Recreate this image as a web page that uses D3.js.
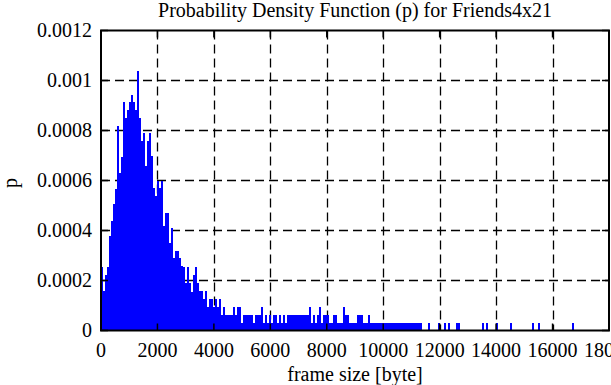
<!doctype html>
<html>
<head>
<meta charset="utf-8">
<title>Probability Density Function (p) for Friends4x21</title>
<script src="https://cdn.jsdelivr.net/npm/d3@7"></script>
<style>
  body { margin: 0; background: #fff; }
  svg text { font-family: "Liberation Serif", "DejaVu Serif", serif; font-size: 20px; fill: #000; }
</style>
</head>
<body>
<svg id="chart" width="611" height="385"></svg>
<script>
// histogram bin width in bytes
var binWidth = 71;

// p per bin, starting at frame size 0
var pMain = [
  0.000255, 0.00016, 0.000222, 0.000255, 0.000378, 0.00044, 0.000506, 0.000567,
  0.000818, 0.000629, 0.000695, 0.000914, 0.00085, 0.000882, 0.000914, 0.000943,
  0.000914, 0.000882, 0.00104, 0.00085, 0.00076, 0.00079, 0.00066, 0.00076,
  0.00079, 0.00070, 0.00057, 0.00054, 0.00060, 0.00057, 0.00060, 0.00042,
  0.00047, 0.00047, 0.00035, 0.00041, 0.00029, 0.00032, 0.00032, 0.00029,
  0.00026, 0.000255, 0.00019, 0.000255, 0.00019, 0.000155, 0.000222, 0.000255,
  0.00019, 0.00016, 0.00016, 0.000127, 0.00016, 0.000095, 0.000127, 0.000127,
  0.000095, 0.000127, 0.000095, 0.000127, 0.000063, 0.000095, 0.000063, 0.000063,
  0.000063, 0.000064, 0.000096, 0.000064, 0.000096, 0.000096, 0.000032, 0.000064,
  0.000064, 0.000064, 0.000064, 0.000064, 0.000032, 0.000064, 0.000064, 0.000064,
  0.000096, 0.000032, 0.000064, 0.000032, 0.000064, 0.000032, 0.000064, 0.000064,
  0.000032, 0.000064, 0.000032, 0.000064, 0.000032, 0.000064, 0.000064, 0.000064,
  0.000064, 0.000064, 0.000064, 0.000064, 0.000064, 0.000064, 0.000064, 0.000064,
  0.000096, 0.000032, 0.000064, 0.000032, 0.000064, 0.000096, 0.000032, 0.000064,
  0.000064, 0.000064, 0.000032, 0.000032, 0.000064, 0.000064, 0.000032, 0.000032,
  0.000032, 0.000096, 0.000064, 0.000064, 0.000032, 0.000032, 0.000032, 0.000032,
  0.000064, 0.000064, 0.000064, 0.000032, 0.000032, 0.000064, 0.000032, 0.000032,
  0.000032, 0.000032, 0.000032, 0.000032, 0.000032, 0.000032, 0.000032, 0.000032,
  0.000032, 0.000032, 0.000032, 0.000032, 0.000032, 0.000032, 0.000032, 0.000032,
  0.000032, 0.000032, 0.000032, 0.000032, 0.000032, 0.000032, 0.000032, 0.000032
];

// isolated large frames (bin start in bytes) and their p
var tailSizes = [11570, 11930, 12140, 12280, 12570, 12640, 13490, 13630, 13990, 14480, 15270, 15480, 16690];
var tailP = [0.000032, 0.000032, 0.000032, 0.000032, 0.000032, 0.000032, 0.000032, 0.000032, 0.000032, 0.000032, 0.000032, 0.000032, 0.000032];

var xTicks = [0, 2000, 4000, 6000, 8000, 10000, 12000, 14000, 16000, 18000];
var yTicks = [0, 0.0002, 0.0004, 0.0006, 0.0008, 0.001, 0.0012];

var bins = pMain.map(function (p, i) { return { x0: i * binWidth, p: p }; })
  .concat(tailSizes.map(function (s, i) { return { x0: s, p: tailP[i] }; }));

var svg = d3.select('#chart');
var plotL = 101, plotR = 609, plotT = 30.5, plotB = 330.5;

var x = d3.scaleLinear().domain([0, 18000]).range([plotL, plotR]);
var y = d3.scaleLinear().domain([0, 0.0012]).range([plotB, plotT]);

// grid (behind bars)
svg.append('g').selectAll('line')
  .data(xTicks.slice(1, -1))
  .enter().append('line')
    .attr('x1', function (d) { return Math.round(x(d)) + 0.5; })
    .attr('x2', function (d) { return Math.round(x(d)) + 0.5; })
    .attr('y1', plotT).attr('y2', plotB)
    .style('stroke', '#000').style('stroke-width', 1.3).style('stroke-dasharray', '9,5');
svg.append('g').selectAll('line')
  .data(yTicks.slice(1, -1))
  .enter().append('line')
    .attr('x1', plotL).attr('x2', plotR)
    .attr('y1', function (d) { return y(d); })
    .attr('y2', function (d) { return y(d); })
    .style('stroke', '#000').style('stroke-width', 1.3).style('stroke-dasharray', '9,5');

// bars
svg.append('g').selectAll('rect')
  .data(bins)
  .enter().append('rect')
    .attr('x', function (d) { return x(d.x0); })
    .attr('width', function (d) { return x(d.x0 + binWidth) - x(d.x0); })
    .attr('y', function (d) { return y(d.p); })
    .attr('height', function (d) { return y(0) - y(d.p); })
    .style('fill', '#0000ff')
    .attr('shape-rendering', 'crispEdges');

// ticks on all four sides, drawn over the bars
var ticks = svg.append('g').style('stroke', '#000').style('stroke-width', 1.5);
xTicks.forEach(function (d) {
  var px = x(d);
  ticks.append('line').attr('x1', px).attr('x2', px).attr('y1', plotB).attr('y2', plotB - 7);
  ticks.append('line').attr('x1', px).attr('x2', px).attr('y1', plotT).attr('y2', plotT + 7);
});
yTicks.forEach(function (d) {
  var py = y(d);
  ticks.append('line').attr('x1', plotL).attr('x2', plotL + 7).attr('y1', py).attr('y2', py);
  ticks.append('line').attr('x1', plotR).attr('x2', plotR - 7).attr('y1', py).attr('y2', py);
});

// border
svg.append('rect')
  .attr('x', plotL).attr('y', plotT)
  .attr('width', plotR - plotL).attr('height', plotB - plotT)
  .style('fill', 'none').style('stroke', '#000').style('stroke-width', 2);

// tick labels
svg.append('g').selectAll('text')
  .data(xTicks)
  .enter().append('text')
    .attr('x', function (d) { return x(d); })
    .attr('y', 357)
    .attr('text-anchor', 'middle')
    .text(function (d) { return d; });
svg.append('g').selectAll('text')
  .data(yTicks)
  .enter().append('text')
    .attr('x', 92)
    .attr('y', function (d) { return y(d); })
    .attr('dy', '0.33em')
    .attr('text-anchor', 'end')
    .text(function (d) { return String(+d.toFixed(4)); });

// titles
svg.append('text')
  .attr('x', 355).attr('y', 17)
  .attr('text-anchor', 'middle')
  .text('Probability Density Function (p) for Friends4x21');
svg.append('text')
  .attr('x', 355).attr('y', 381)
  .attr('text-anchor', 'middle')
  .text('frame size [byte]');
svg.append('text')
  .attr('transform', 'translate(17,183) rotate(-90)')
  .attr('text-anchor', 'middle')
  .text('p');
</script>
</body>
</html>
